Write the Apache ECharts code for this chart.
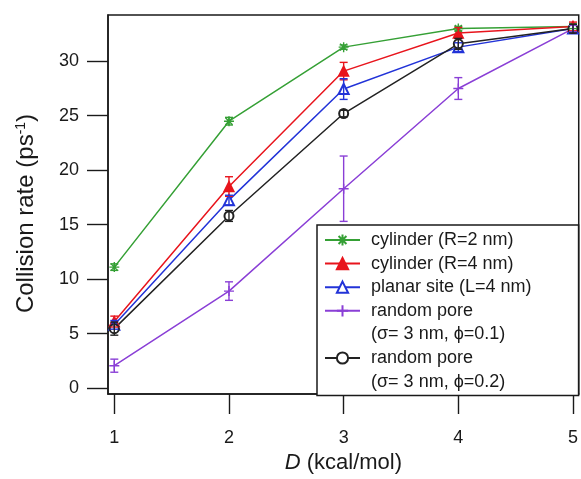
<!DOCTYPE html>
<html>
<head>
<meta charset="utf-8">
<script src="https://cdn.jsdelivr.net/npm/echarts@6/dist/echarts.min.js"></script>
<style>
  html, body { margin: 0; padding: 0; background: #fff; }
  #chart { width: 581px; height: 479px; }
</style>
</head>
<body>
<div id="chart"></div>
<script>
// Binding energy D (kcal/mol)
const energies = [1, 2, 3, 4, 5];
const xTickValues = [1, 2, 3, 4, 5];
const yTickValues = [0, 5, 10, 15, 20, 25, 30];

// Collision rates (ps^-1) and their error half-widths
const cylinderR2 = [11.1, 24.5, 31.3, 33.0, 33.2];
const cylinderR2Err = [0.3, 0.35, 0.2, 0.2, 0.2];
const cylinderR4 = [6.1, 18.5, 29.1, 32.6, 33.2];
const cylinderR4Err = [0.5, 0.9, 0.8, 0.5, 0.4];
const planarSite = [5.8, 17.25, 27.45, 31.3, 33.0];
const planarSiteErr = [0.4, 0.45, 0.95, 0.4, 0.3];
const randomPore01 = [2.05, 8.9, 18.3, 27.5, 33.0];
const randomPore01Err = [0.6, 0.85, 3.0, 1.0, 0.3];
const randomPore02 = [5.45, 15.8, 25.2, 31.6, 33.0];
const randomPore02Err = [0.6, 0.5, 0.3, 0.5, 0.4];

// Legend labels (second lines of the random-pore entries are separate rows)
const legendLabels = [
  'cylinder (R=2 nm)',
  'cylinder (R=4 nm)',
  'planar site (L=4 nm)',
  'random pore',
  '(σ= 3 nm, ϕ=0.1)',
  'random pore ',
  '(σ= 3 nm, ϕ=0.2)'
];

const FONT = "'Liberation Sans', Arial, sans-serif";
const INK = '#1a1a1a';

const asterisk = 'path://M0,5L10,5M5,0L5,10M1.5,1.5L8.5,8.5M8.5,1.5L1.5,8.5';
const plus = 'path://M5,0L5,10M0,5L10,5';

const styles = [
  { name: legendLabels[0], values: cylinderR2, errors: cylinderR2Err, color: '#35a035', symbol: asterisk, size: 10, stroke: true },
  { name: legendLabels[1], values: cylinderR4, errors: cylinderR4Err, color: '#e8141c', symbol: 'triangle', size: 10 },
  { name: legendLabels[2], values: planarSite, errors: planarSiteErr, color: '#2233d8', symbol: 'emptyTriangle', size: 10 },
  { name: legendLabels[3], values: randomPore01, errors: randomPore01Err, color: '#8a3fd6', symbol: plus, size: 10, stroke: true },
  { name: legendLabels[5], values: randomPore02, errors: randomPore02Err, color: '#222222', symbol: 'emptyCircle', size: 9 }
];

function lineSeries(s) {
  return {
    name: s.name,
    type: 'line',
    data: energies.map((x, i) => [x, s.values[i]]),
    symbol: s.symbol,
    symbolSize: s.size,
    showAllSymbol: true,
    lineStyle: { color: s.color, width: 1.5 },
    itemStyle: s.stroke
      ? { color: 'transparent', borderColor: s.color, borderWidth: 1.4 }
      : { color: s.color, borderColor: s.color, borderWidth: 1.4 },
    emphasis: { disabled: true },
    z: 4
  };
}

function errorBarSeries(s) {
  return {
    name: s.name + ' error',
    type: 'custom',
    data: energies.map((x, i) => [x, s.values[i] - s.errors[i], s.values[i] + s.errors[i]]),
    encode: { x: 0, y: [1, 2] },
    renderItem: function (params, api) {
      const lo = api.coord([api.value(0), api.value(1)]);
      const hi = api.coord([api.value(0), api.value(2)]);
      const hw = 4;
      const st = { stroke: s.color, lineWidth: 1.4, fill: null };
      return {
        type: 'group',
        children: [
          { type: 'line', shape: { x1: lo[0], y1: lo[1], x2: hi[0], y2: hi[1] }, style: st },
          { type: 'line', shape: { x1: lo[0] - hw, y1: lo[1], x2: lo[0] + hw, y2: lo[1] }, style: st },
          { type: 'line', shape: { x1: hi[0] - hw, y1: hi[1], x2: hi[0] + hw, y2: hi[1] }, style: st }
        ]
      };
    },
    silent: true,
    z: 5
  };
}

// Text-only legend rows carrying the second line of the two-line labels
function continuationSeries(name) {
  return {
    name: name,
    type: 'line',
    data: [],
    symbol: 'none',
    lineStyle: { opacity: 0 },
    itemStyle: { opacity: 0 }
  };
}

const series = [];
styles.forEach(s => series.push(lineSeries(s)));
styles.forEach(s => series.push(errorBarSeries(s)));
series.push(continuationSeries(legendLabels[4]));
series.push(continuationSeries(legendLabels[6]));

const chart = echarts.init(document.getElementById('chart'), null, { renderer: 'canvas' });

chart.setOption({
  animation: false,
  backgroundColor: '#ffffff',
  textStyle: { fontFamily: FONT },
  grid: {
    left: 108, top: 15, right: 1, bottom: 82,
    show: true, borderColor: INK, borderWidth: 1.5, backgroundColor: 'transparent'
  },
  xAxis: {
    type: 'value',
    min: 0.945,
    max: 5.05,
    axisLine: { show: true, onZero: false, lineStyle: { color: INK, width: 1.5 } },
    axisTick: { show: true, inside: false, length: 20, lineStyle: { color: INK, width: 1.4 }, customValues: xTickValues },
    axisLabel: { fontSize: 18, color: INK, margin: 35, fontFamily: FONT, customValues: xTickValues },
    splitLine: { show: false },
    name: '{i|D} (kcal/mol)',
    nameLocation: 'middle',
    nameGap: 58,
    nameTextStyle: {
      fontSize: 22, color: INK, fontFamily: FONT,
      rich: { i: { fontSize: 22, fontStyle: 'italic', color: INK, fontFamily: FONT } }
    }
  },
  yAxis: {
    type: 'value',
    min: -0.55,
    max: 34.25,
    axisLine: { show: true, onZero: false, lineStyle: { color: INK, width: 1.5 } },
    axisTick: { show: true, inside: false, length: 21, lineStyle: { color: INK, width: 1.4 }, customValues: yTickValues },
    axisLabel: { fontSize: 18, color: INK, margin: 29, fontFamily: FONT, customValues: yTickValues },
    splitLine: { show: false },
    name: 'Collision rate (ps{sup|-1})',
    nameLocation: 'middle',
    nameGap: 70,
    nameTextStyle: {
      fontSize: 24, color: INK, fontFamily: FONT,
      padding: [0, 18, 0, 0],
      rich: { sup: { fontSize: 14, verticalAlign: 'top', color: INK, fontFamily: FONT, padding: [0, 0, 8, 0] } }
    }
  },
  legend: {
    orient: 'vertical',
    left: 317,
    top: 225,
    padding: [6, 47, 5, 7],
    itemGap: 5.6,
    itemWidth: 35,
    itemHeight: 14,
    selectedMode: false,
    backgroundColor: '#ffffff',
    borderColor: INK,
    borderWidth: 1.5,
    borderRadius: 0,
    data: legendLabels,
    formatter: name => '{t|' + name + '}',
    textStyle: {
      color: INK, fontSize: 18, fontFamily: FONT,
      rich: { t: { fontSize: 18, lineHeight: 20, color: INK, fontFamily: FONT, padding: [0, 0, 0, 6] } }
    }
  },
  series: series
});
</script>
</body>
</html>
